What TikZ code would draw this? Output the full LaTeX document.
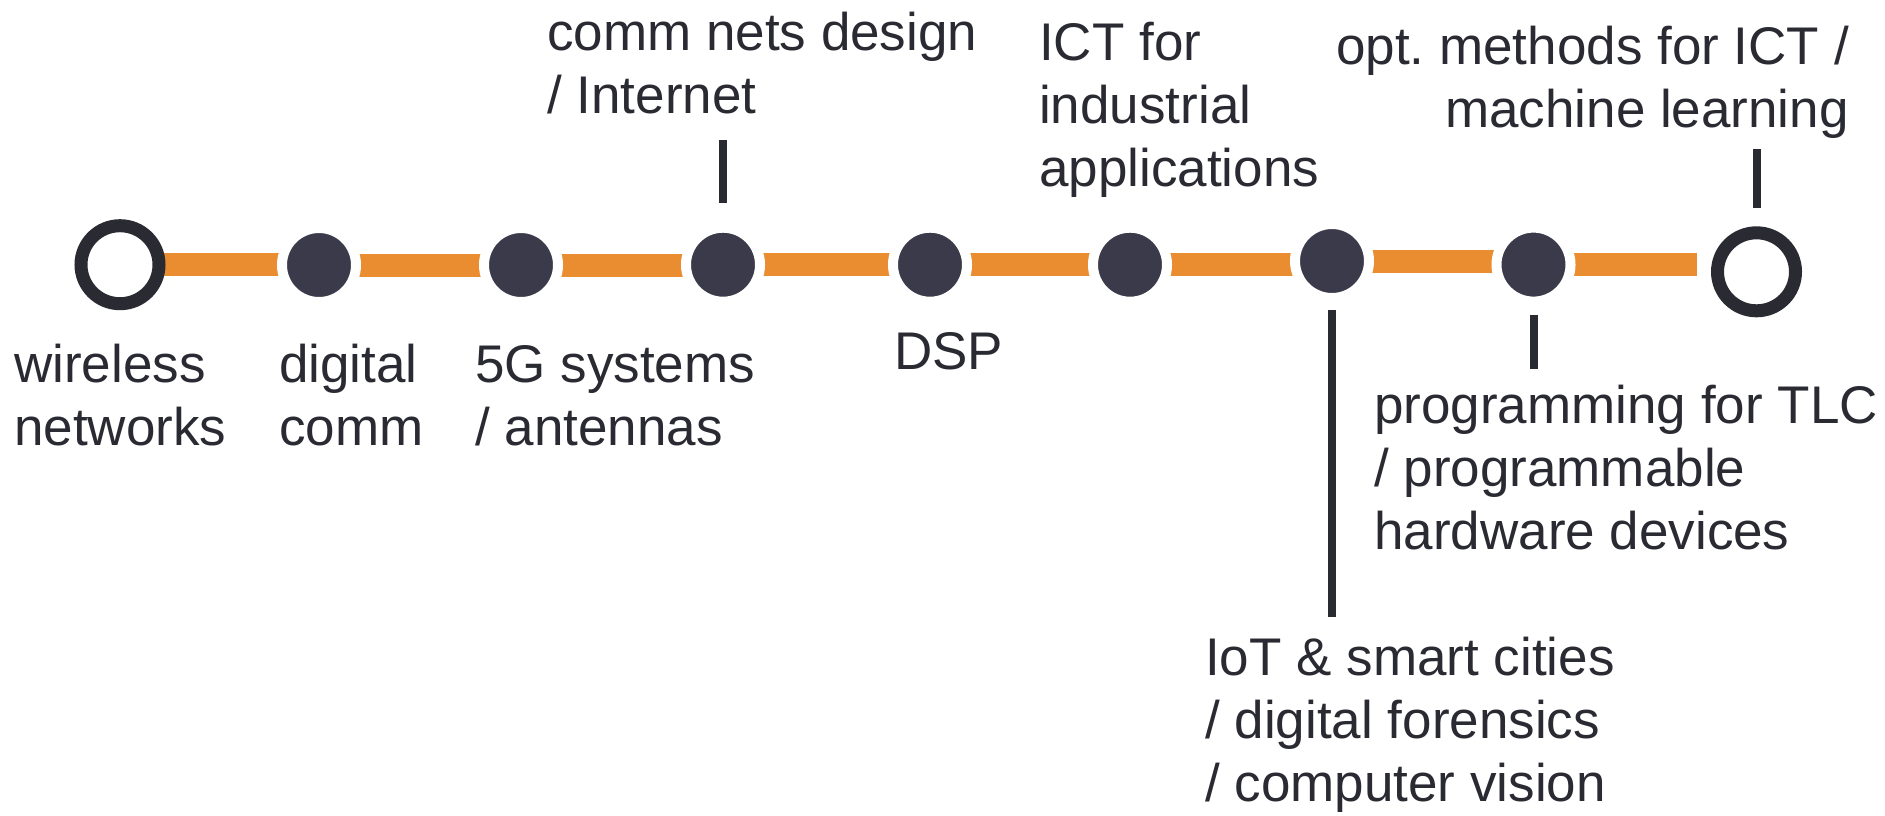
\documentclass[tikz,border=0pt]{standalone}
\usepackage{fontspec}
\setmainfont{Liberation Sans}
\usetikzlibrary{backgrounds}
\definecolor{orng}{HTML}{EA8D30}
\definecolor{dotc}{HTML}{3B3A4A}
\definecolor{inkc}{HTML}{2A2A33}
\frenchspacing
\tikzset{
  lbl/.style={font=\fontsize{53}{63}\selectfont, align=left, inner sep=0pt, text=inkc},
  dotnode/.style={circle, fill=dotc, draw=white, line width=10pt, minimum size=74pt, inner sep=0pt},
  ringnode/.style={circle, fill=white, draw=inkc, line width=13pt, minimum size=78pt, inner sep=0pt},
  seg/.style={draw=orng, line width=23pt},
  tick/.style={draw=inkc, line width=8pt}
}
\begin{document}
\begin{tikzpicture}[x=1pt, y=-1pt]
\begin{scope}[on background layer]
\fill[white] (0,0) rectangle (1885,815);
\end{scope}
\useasboundingbox (0,0) rectangle (1885,815);

% timeline nodes
\node[ringnode] (c1) at (120,264.7) {};
\node[dotnode] (d2) at (319,265) {};
\node[dotnode] (d3) at (521,265) {};
\node[dotnode] (d4) at (723,264.7) {};
\node[dotnode] (d5) at (930,264.7) {};
\node[dotnode] (d6) at (1130,264.7) {};
\node[dotnode] (d7) at (1332,261) {};
\node[dotnode] (d8) at (1533.5,264.6) {};
\node[ringnode] (c9) at (1756.5,271.8) {};

% orange segments
\begin{scope}[on background layer]
\draw[seg] (c1.center) -- (c1.center -| d2.center);
\draw[seg] (d2.center) -- (d2.center -| d3.center);
\draw[seg] (d3.center) -- (d3.center -| d4.center);
\draw[seg] (d4.center) -- (d4.center -| d5.center);
\draw[seg] (d5.center) -- (d5.center -| d6.center);
\draw[seg] (d6.center) -- (d6.center -| d7.center);
\draw[seg] (d7.center) -- (d7.center -| d8.center);
\draw[seg, shorten >=14pt] (d8.center) -- (d8.center -| c9.west);
\end{scope}

% labels (base anchor = baseline of the last line)
\node[lbl, anchor=base west] (t1) at (14,445) {wireless\\networks};
\node[lbl, anchor=base west] (t2) at (279,445) {digital\\comm};
\node[lbl, anchor=base west] (t3) at (475,445) {5G systems\\/ antennas};
\node[lbl, anchor=base west] (t4) at (547,113.5) {comm nets design\\/ Internet};
\node[lbl, anchor=base west] (t5) at (894,369) {DSP};
\node[lbl, anchor=base west] (t6) at (1039,186) {ICT for\\industrial\\applications};
\node[lbl, anchor=base west] (t7) at (1205,801) {IoT \& smart cities\\/ digital forensics\\/ computer vision};
\node[lbl, anchor=base west] (t8) at (1374,549) {programming for TLC\\/ programmable\\hardware devices};
\node[lbl, align=right, anchor=base east] (t9) at (1849,127) {opt.\ methods for ICT /\\machine learning};

% ticks
\draw[tick] (d4) ++(0,-62) -- ++(0,-63);
\draw[tick] (d7) ++(0,49) -- ++(0,307);
\draw[tick] (d8) ++(0,50) -- ++(0,54);
\draw[tick] (c9) ++(0,-64) -- ++(0,-59);
\end{tikzpicture}
\end{document}
